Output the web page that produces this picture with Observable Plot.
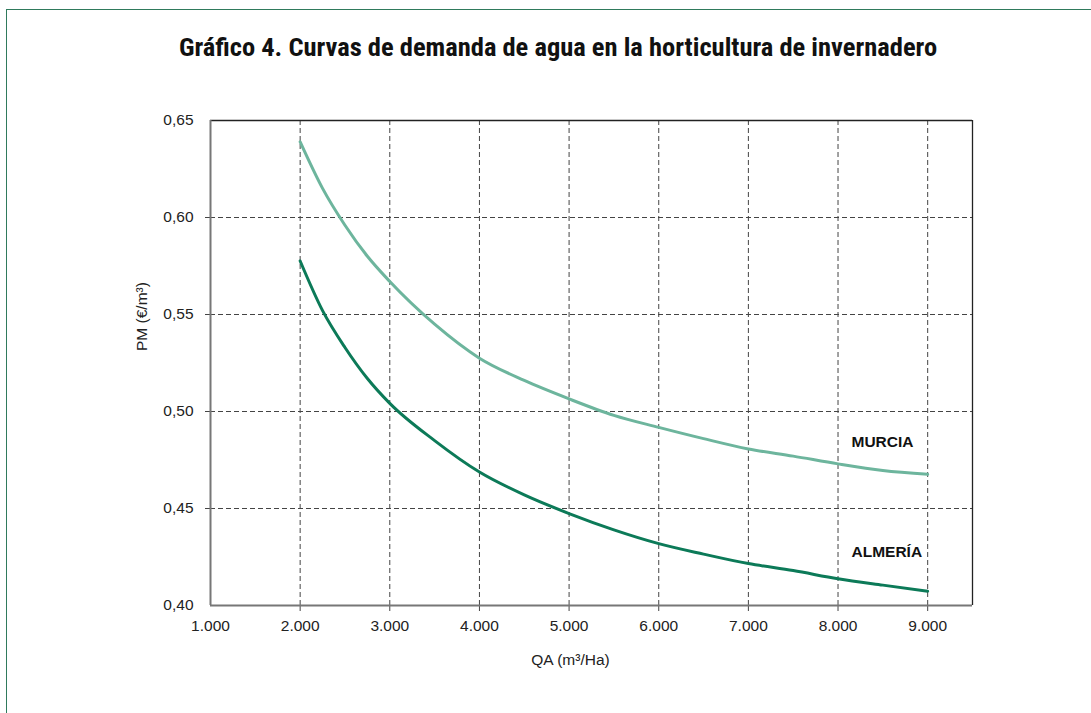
<!DOCTYPE html>
<html>
<head>
<meta charset="utf-8">
<script src="https://cdn.jsdelivr.net/npm/d3@7"></script>
<script src="https://cdn.jsdelivr.net/npm/@observablehq/plot@0.6"></script>
<style>
  html, body { margin: 0; padding: 0; background: #fff; }
  body { width: 1091px; height: 713px; position: relative; overflow: hidden; font-family: "Liberation Sans", Arial, sans-serif; }
  #frame { position: absolute; left: 6px; top: 9px; width: 1200px; height: 800px; border-left: 1.5px solid #2f7a5c; border-top: 1.5px solid #2f7a5c; }
  #title { position: absolute; left: 0; top: 0; width: 1091px; padding-left: 25px; box-sizing: border-box; height: 80px; text-align: center; font-family: "Liberation Sans Narrow", "Arial Narrow", "Roboto Condensed", sans-serif; font-stretch: condensed; font-weight: bold; font-size: 26.5px; line-height: 94px; color: #111; }
  #chart { position: absolute; left: 0; top: 80px; }
</style>
</head>
<body>
<div id="frame"></div>
<div id="title">Gráfico 4. Curvas de demanda de agua en la horticultura de invernadero</div>
<div id="chart"></div>
<script>
// Data
const qa = [2000, 2250, 2500, 2750, 3000, 3500, 4000, 4500, 5000, 5500, 6000, 6500, 7000, 7500, 8000, 8500, 9000];
const murcia  = [0.639, 0.615, 0.596, 0.580, 0.567, 0.545, 0.5275, 0.516, 0.5065, 0.498, 0.4918, 0.486, 0.4807, 0.477, 0.473, 0.4696, 0.4676];
const almeria = [0.5776, 0.552, 0.533, 0.517, 0.5042, 0.485, 0.4688, 0.457, 0.4474, 0.439, 0.4319, 0.4265, 0.4216, 0.418, 0.4138, 0.4105, 0.4074];
const seriesNames = ["MURCIA", "ALMERÍA"];
const labelQA = [8150, 8150];
const labelPM = [0.4841, 0.4276];
const xTicks = [1000, 2000, 3000, 4000, 5000, 6000, 7000, 8000, 9000];
const xGrid = [2000, 3000, 4000, 5000, 6000, 7000, 8000, 9000];
const yTicks = [0.40, 0.45, 0.50, 0.55, 0.60, 0.65];
const yGrid = [0.45, 0.50, 0.55, 0.60];
const xDomain = [1000, 9500];
const yDomain = [0.40, 0.65];
const xTitle = "QA (m³/Ha)";
const yTitle = "PM (€/m³)";

const colors = {"MURCIA": "#6db59d", "ALMERÍA": "#0c7a58"};

const rows = [];
qa.forEach((q, i) => {
  rows.push({series: "MURCIA", qa: q, pm: murcia[i]});
  rows.push({series: "ALMERÍA", qa: q, pm: almeria[i]});
});
const labels = seriesNames.map((s, i) => ({s, qa: labelQA[i], pm: labelPM[i]}));

const loc = d3.formatLocale({decimal: ",", thousands: ".", grouping: [3], currency: ["", "€"]});
const fx = loc.format(",.0f");
const fy = loc.format(".2f");

const dash = "5,3";
const gridColor = "#444";
const fs = 15.5;

const plot = Plot.plot({
  width: 1091,
  height: 633,
  marginTop: 40,
  marginBottom: 108,
  marginLeft: 210,
  marginRight: 119,
  style: {fontFamily: "'Liberation Sans', Arial, sans-serif", fontSize: fs + "px", color: "#222", background: "transparent", overflow: "visible"},
  x: {domain: xDomain},
  y: {domain: yDomain},
  marks: [
    Plot.ruleX(xGrid, {stroke: gridColor, strokeDasharray: dash, strokeWidth: 1}),
    Plot.ruleY(yGrid, {stroke: gridColor, strokeDasharray: dash, strokeWidth: 1}),
    Plot.axisX({ticks: xGrid, tickSize: 6, tickFormat: null, stroke: gridColor, strokeWidth: 1, label: null, text: null}),
    Plot.axisY({ticks: yGrid, tickSize: 7, tickFormat: null, stroke: gridColor, strokeDasharray: dash, strokeWidth: 1, label: null, text: null}),
    Plot.axisX({ticks: xTicks, tickSize: 0, tickPadding: 14, tickFormat: fx, label: null, fill: "#222", fontSize: fs}),
    Plot.axisY({ticks: yTicks, tickSize: 0, tickPadding: 17, tickFormat: fy, label: null, fill: "#222", fontSize: fs}),
    Plot.ruleY([yDomain[1]], {stroke: "#222", strokeWidth: 1.3}),
    Plot.ruleX([xDomain[1]], {stroke: "#222", strokeWidth: 1.3}),
    Plot.ruleX([xDomain[0]], {stroke: "#777", strokeWidth: 2}),
    Plot.ruleY([yDomain[0]], {stroke: "#777", strokeWidth: 2}),
    Plot.line(rows, {x: "qa", y: "pm", z: "series", stroke: d => colors[d.series], strokeWidth: 3, curve: "monotone-x"}),
    Plot.text(labels, {x: "qa", y: "pm", text: "s", textAnchor: "start", fontWeight: "bold", fontSize: 15.5, fill: "#111"}),
    Plot.text([xTitle], {frameAnchor: "bottom", text: d => d, dy: 59, dx: -21, fontSize: fs, fill: "#222"}),
    Plot.text([yTitle], {frameAnchor: "left", text: d => d, rotate: -90, dx: -68, dy: -12, fontSize: fs, fill: "#222"})
  ]
});
document.getElementById("chart").appendChild(plot);
</script>
</body>
</html>
